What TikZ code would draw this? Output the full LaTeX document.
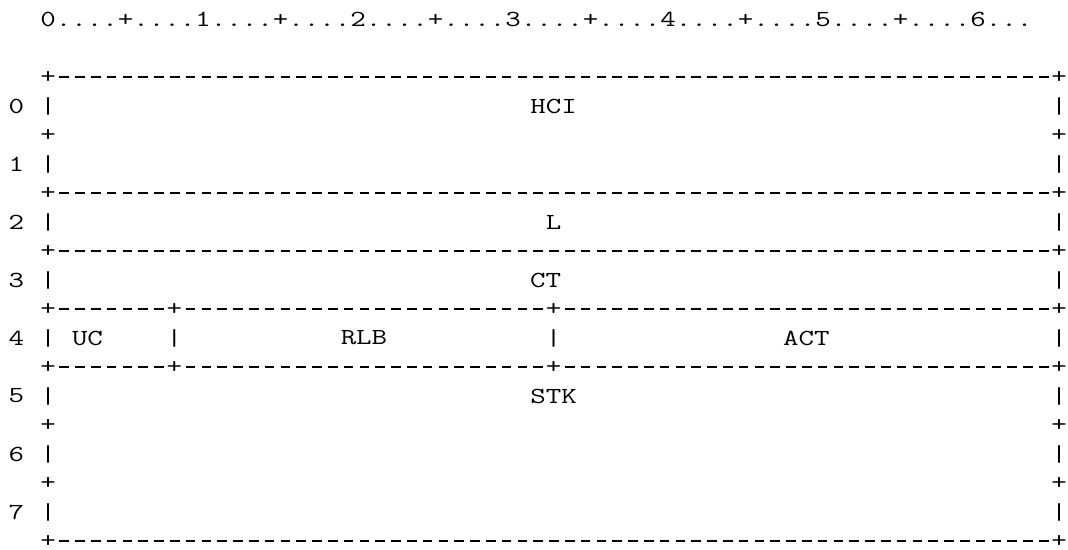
\documentclass[tikz,border=0pt]{standalone}
\usepackage{graphicx}
\usepackage{tikz}

% typewriter text, widened to the column pitch of the layout
\newcommand{\monotxt}[1]{\scalebox{1.3085}[1]{\fontsize{11.5pt}{14pt}\selectfont\ttfamily #1}}

\begin{document}
\begin{tikzpicture}[
  x=7.9pt, y=-14.5pt,
  glyph/.style={inner sep=0pt, minimum width=7.9pt},
  field/.style={inner sep=0pt},
  asciidash/.style={line width=0.9pt, dash pattern=on 4.74pt off 3.16pt, dash phase=6.32pt}
]
  \useasboundingbox (-3.038,-0.655) rectangle (64.557,18.310);
  \node[field, anchor=west] (ruler) at (-0.5,0)
    {\monotxt{0....+....1....+....2....+....3....+....4....+....5....+....6...}};
  % row numbers and side bars
  \foreach \r in {0,...,7} {
    \pgfmathtruncatemacro{\yy}{2*\r+3}
    \node[glyph] (n\r) at (-2,\yy) {\monotxt{\r}};
    \node[glyph] (bl\r) at (0,\yy) {\monotxt{|}};
    \node[glyph] (br\r) at (64,\yy) {\monotxt{|}};
  }
  \node[glyph] (ba4) at (8,11) {\monotxt{|}};
  \node[glyph] (bb4) at (32,11) {\monotxt{|}};
  % full borders
  \foreach \l in {2,6,8,18} {
    \node[glyph] (cl\l) at (0,\l) {\monotxt{+}};
    \node[glyph] (cr\l) at (64,\l) {\monotxt{+}};
    \draw[asciidash] (cl\l) -- (cr\l);
  }
  % borders split round row 4
  \foreach \l in {10,12} {
    \node[glyph] (cl\l) at (0,\l) {\monotxt{+}};
    \node[glyph] (ca\l) at (8,\l) {\monotxt{+}};
    \node[glyph] (cb\l) at (32,\l) {\monotxt{+}};
    \node[glyph] (cr\l) at (64,\l) {\monotxt{+}};
    \draw[asciidash] (cl\l) -- (ca\l);
    \draw[asciidash] (ca\l) -- (cb\l);
    \draw[asciidash] (cb\l) -- (cr\l);
  }
  % corners only
  \foreach \l in {4,14,16} {
    \node[glyph] (cl\l) at (0,\l) {\monotxt{+}};
    \node[glyph] (cr\l) at (64,\l) {\monotxt{+}};
  }
  % field names
  \node[field] (hci) at (32,3) {\monotxt{HCI}};
  \node[field] (l) at (32,7) {\monotxt{L}};
  \node[field] (ct) at (31.5,9) {\monotxt{CT}};
  \node[field] (uc) at (2.5,11) {\monotxt{UC}};
  \node[field] (rlb) at (20,11) {\monotxt{RLB}};
  \node[field] (act) at (48,11) {\monotxt{ACT}};
  \node[field] (stk) at (32,13) {\monotxt{STK}};
\end{tikzpicture}
\end{document}
